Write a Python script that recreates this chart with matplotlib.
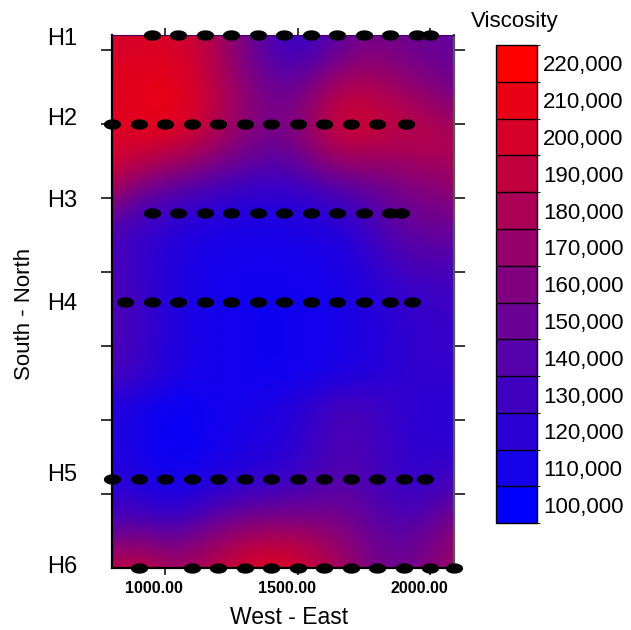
import numpy as np
import matplotlib
matplotlib.use('Agg')
import matplotlib.pyplot as plt
import matplotlib.transforms as mtransforms
from matplotlib.colors import LinearSegmentedColormap, ListedColormap, BoundaryNorm, Normalize
from matplotlib.cm import ScalarMappable
from matplotlib.path import Path

plt.rcParams['font.family'] = ['Liberation Sans', 'DejaVu Sans']

# filas de muestreo (posicion sur-norte)
row_names = ['H1', 'H2', 'H3', 'H4', 'H5', 'H6']
row_y = [7.2, 6.0, 4.8, 3.6, 1.2, 0.0]
label_y = [7.15, 6.07, 4.96, 3.56, 1.26, 0.01]

# posiciones oeste-este y viscosidad de cada fila
h1_x = [950, 1050, 1150, 1250, 1350, 1450, 1550, 1650, 1750, 1850, 1950, 2000]
h1_v = [195000, 208000, 190000, 165000, 140000, 118000, 110000, 140000, 155000, 152000, 145000, 145000]
h2_x = [800, 900, 1000, 1100, 1200, 1300, 1400, 1500, 1600, 1700, 1800, 1910]
h2_v = [198000, 212000, 225000, 215000, 190000, 172000, 160000, 150000, 220000, 222000, 200000, 195000]
h3_x = [950, 1050, 1150, 1250, 1350, 1450, 1550, 1650, 1750, 1850, 1890]
h3_v = [125000, 112000, 110000, 110000, 110000, 112000, 112000, 112000, 116000, 138000, 168000]
h4_x = [850, 950, 1050, 1150, 1250, 1350, 1450, 1550, 1650, 1750, 1850, 1930]
h4_v = [145000, 120000, 112000, 110000, 108000, 105000, 105000, 108000, 110000, 112000, 118000, 128000]
h5_x = [800, 900, 1000, 1100, 1200, 1300, 1400, 1500, 1600, 1700, 1800, 1900, 1980]
h5_v = [122000, 108000, 100000, 102000, 108000, 112000, 112000, 115000, 135000, 142000, 130000, 120000, 118000]
h6_x = [900, 1100, 1200, 1300, 1400, 1500, 1600, 1700, 1800, 1900, 2000, 2090]
h6_v = [212000, 178000, 200000, 212000, 222000, 215000, 188000, 178000, 150000, 145000, 170000, 182000]

levels = [100000, 110000, 120000, 130000, 140000, 150000, 160000, 170000,
          180000, 190000, 200000, 210000, 220000]

rows_x = [h1_x, h2_x, h3_x, h4_x, h5_x, h6_x]
rows_v = [h1_v, h2_v, h3_v, h4_v, h5_v, h6_v]
px = np.concatenate([np.array(r, float) for r in rows_x])
py = np.concatenate([np.full(len(r), yy) for r, yy in zip(rows_x, row_y)])
pv = np.concatenate([np.array(r, float) for r in rows_v])

x_lim = (800, 2090)
y_lim = (0, 7.2)

# superficie suavizada (promedio ponderado gaussiano) en escala de pantalla
sx, sy = 0.266, 74.0
sig_x, sig_y = 28.0, 45.0
gx = np.linspace(x_lim[0], x_lim[1], 260)
gy = np.linspace(y_lim[0], y_lim[1], 400)
GX, GY = np.meshgrid(gx, gy)
dx = (GX.ravel()[:, None] - px[None, :]) * sx / sig_x
dy = (GY.ravel()[:, None] - py[None, :]) * sy / sig_y
W = np.exp(-0.5 * (dx ** 2 + dy ** 2))
Z = ((W @ pv) / W.sum(axis=1)).reshape(GX.shape)

cmap = LinearSegmentedColormap.from_list('br', [(0, 0, 1), (1, 0, 0)])
norm = Normalize(vmin=100000, vmax=220000)

fig = plt.figure(figsize=(6.31, 6.30), dpi=100)
ax = fig.add_axes([0.1775, 0.0984, 0.5420, 0.8460])
ax.imshow(Z, extent=(x_lim[0], x_lim[1], y_lim[0], y_lim[1]), origin='lower',
          cmap=cmap, norm=norm, aspect='auto', interpolation='bilinear')

# marcador eliptico
t = np.linspace(0, 2 * np.pi, 40)
ellipse = Path(np.column_stack([np.cos(t), 0.6 * np.sin(t)]), closed=True)
ax.plot(px, py, linestyle='none', marker=ellipse, markersize=12.4,
        color='black', markeredgewidth=0, clip_on=False, zorder=5)

ax.set_xlim(*x_lim)
ax.set_ylim(*y_lim)
ax.set_xticks([1000, 1500, 2000])
ax.set_xticklabels(['1000.00', '1500.00', '2000.00'], fontsize=11.5, fontweight='bold')
ax.set_yticks(range(1, 8))
ax.set_yticklabels([])
ax.tick_params(axis='x', direction='out', top=True, length=5, width=1.1, pad=4.5)
ax.tick_params(axis='y', direction='out', right=True, length=8, width=1.1)
offset = mtransforms.ScaledTranslation(-11 / 100, 0, fig.dpi_scale_trans)
for lbl in ax.get_xticklabels():
    lbl.set_transform(lbl.get_transform() + offset)

for side in ['left', 'bottom']:
    ax.spines[side].set_linewidth(1.6)
    ax.spines[side].set_color('black')
ax.spines['right'].set_linewidth(1.6)
ax.spines['right'].set_color('#555555')
ax.spines['top'].set_linewidth(0.8)
ax.spines['top'].set_color('#400060')

trans = mtransforms.blended_transform_factory(ax.transAxes, ax.transData)
for name, yy in zip(row_names, label_y):
    ax.text(-0.146, yy, name, transform=trans, ha='center', va='center',
            fontsize=17, family=['Liberation Sans Narrow', 'Liberation Sans', 'DejaVu Sans'])

fig.text(289 / 631, 1 - 617 / 630, 'West - East', ha='center', va='center', fontsize=16.5)
fig.text(25 / 631, 1 - 314 / 630, 'South - North', ha='center', va='center',
         rotation=90, fontsize=16)

# leyenda de colores por niveles
cax = fig.add_axes([0.7856, 0.1694, 0.0649, 0.7592])
lv = np.array(levels, float)
bounds = np.concatenate([lv - 5000, [lv[-1] + 5000]])
cb_cmap = ListedColormap([cmap(norm(l)) for l in lv])
cb = fig.colorbar(ScalarMappable(BoundaryNorm(bounds, len(lv)), cb_cmap), cax=cax,
                  ticks=lv, drawedges=True)
cb.ax.set_yticklabels(['{:,}'.format(l) for l in levels], fontsize=16)
cb.ax.tick_params(length=0, pad=4.5)
cb.dividers.set_color('black')
cb.dividers.set_linewidth(1.0)
cb.outline.set_linewidth(1.0)
fig.text(515 / 631, 1 - 21 / 630, 'Viscosity', ha='center', va='center', fontsize=16)

fig.savefig('out.png', dpi=100)
